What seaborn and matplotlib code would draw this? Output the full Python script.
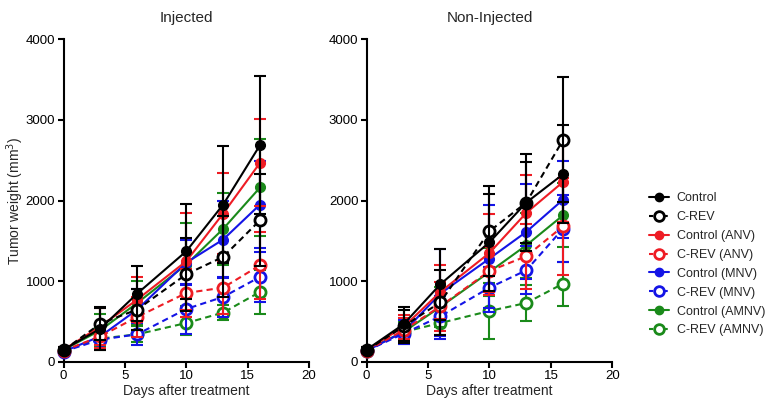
import numpy as np
import pandas as pd
import matplotlib
matplotlib.use("Agg")
import matplotlib.pyplot as plt
import seaborn as sns
from matplotlib.lines import Line2D

days = [0, 3, 6, 10, 13, 16]
groups = ["Control", "C-REV", "Control (ANV)", "C-REV (ANV)",
          "Control (MNV)", "C-REV (MNV)", "Control (AMNV)", "C-REV (AMNV)"]
panels = ["Injected", "Non-Injected"]

# Injected means / SD
inj_ctrl = [153, 413, 847, 1372, 1950, 2686]
inj_crev = [145, 475, 650, 1087, 1302, 1756]
inj_ctrl_anv = [150, 442, 773, 1248, 1839, 2467]
inj_crev_anv = [140, 318, 558, 855, 921, 1198]
inj_ctrl_mnv = [130, 318, 649, 1231, 1517, 1950]
inj_crev_mnv = [130, 277, 343, 657, 806, 1054]
inj_ctrl_amnv = [150, 393, 731, 1207, 1649, 2161]
inj_crev_amnv = [140, 289, 343, 483, 612, 868]

inj_ctrl_err = [30, 260, 343, 590, 720, 855]
inj_crev_err = [30, 200, 250, 450, 500, 570]
inj_ctrl_anv_err = [30, 230, 280, 600, 500, 537]
inj_crev_anv_err = [25, 150, 250, 300, 330, 414]
inj_ctrl_mnv_err = [25, 150, 250, 280, 480, 540]
inj_crev_mnv_err = [20, 100, 136, 314, 250, 310]
inj_ctrl_amnv_err = [25, 200, 270, 516, 450, 600]
inj_crev_amnv_err = [20, 136, 100, 150, 95, 277]

# Non-injected means / SD
ni_ctrl = [153, 467, 963, 1483, 1975, 2326]
ni_crev = [145, 440, 740, 1620, 1975, 2752]
ni_ctrl_anv = [150, 434, 868, 1351, 1847, 2231]
ni_crev_anv = [140, 393, 690, 1128, 1310, 1682]
ni_ctrl_mnv = [140, 372, 847, 1281, 1612, 2012]
ni_crev_mnv = [140, 351, 566, 921, 1136, 1653]
ni_ctrl_amnv = [150, 372, 682, 1116, 1446, 1818]
ni_crev_amnv = [140, 372, 483, 632, 731, 971]

ni_ctrl_err = [30, 210, 440, 600, 600, 610]
ni_crev_err = [30, 200, 400, 560, 500, 775]
ni_ctrl_anv_err = [30, 150, 330, 480, 470, 500]
ni_crev_anv_err = [25, 150, 300, 300, 400, 600]
ni_ctrl_mnv_err = [25, 150, 558, 660, 590, 480]
ni_crev_mnv_err = [20, 120, 250, 250, 300, 420]
ni_ctrl_amnv_err = [25, 150, 250, 300, 400, 400]
ni_crev_amnv_err = [20, 120, 150, 343, 223, 273]

data = {
    "Injected": [(inj_ctrl, inj_ctrl_err), (inj_crev, inj_crev_err),
                 (inj_ctrl_anv, inj_ctrl_anv_err), (inj_crev_anv, inj_crev_anv_err),
                 (inj_ctrl_mnv, inj_ctrl_mnv_err), (inj_crev_mnv, inj_crev_mnv_err),
                 (inj_ctrl_amnv, inj_ctrl_amnv_err), (inj_crev_amnv, inj_crev_amnv_err)],
    "Non-Injected": [(ni_ctrl, ni_ctrl_err), (ni_crev, ni_crev_err),
                     (ni_ctrl_anv, ni_ctrl_anv_err), (ni_crev_anv, ni_crev_anv_err),
                     (ni_ctrl_mnv, ni_ctrl_mnv_err), (ni_crev_mnv, ni_crev_mnv_err),
                     (ni_ctrl_amnv, ni_ctrl_amnv_err), (ni_crev_amnv, ni_crev_amnv_err)],
}

colors = ["#000000", "#000000", "#ee1c24", "#ee1c24",
          "#1414e6", "#1414e6", "#1a8a1a", "#1a8a1a"]

sns.set_theme(style="ticks")
plt.rcParams["font.family"] = ["Liberation Sans", "DejaVu Sans"]

fig = plt.figure(figsize=(7.7, 4.0), dpi=100)
ax_pos = [(0.0825, 0.095, 0.319, 0.8075), (0.4762, 0.095, 0.319, 0.8075)]

handles = []
for pi, (panel, pos) in enumerate(zip(panels, ax_pos)):
    ax = fig.add_axes(pos)
    series = data[panel]
    for gi in reversed(range(len(groups))):
        vals, err = series[gi]
        c = colors[gi]
        is_ctrl = gi % 2 == 0
        z = 10 + (len(groups) - gi)
        df = pd.DataFrame({"day": days, "val": vals})
        ax.errorbar(days, vals, yerr=err, fmt="none", ecolor=c, elinewidth=1.5,
                    capsize=4, capthick=1.5, zorder=z - 0.5)
        sns.lineplot(data=df, x="day", y="val", ax=ax, color=c,
                     linestyle="-" if is_ctrl else (0, (3, 2)),
                     linewidth=1.5, marker="o",
                     markersize=7 if is_ctrl else 8,
                     markerfacecolor=c if is_ctrl else "white",
                     markeredgecolor=c, markeredgewidth=1.0 if is_ctrl else 2.0,
                     zorder=z, legend=False)
    ax.set_xlim(0, 20)
    ax.set_ylim(0, 4000)
    ax.set_xticks([0, 5, 10, 15, 20])
    ax.set_yticks([0, 1000, 2000, 3000, 4000])
    ax.set_title(panel, fontsize=11, pad=12)
    ax.set_xlabel("Days after treatment", fontsize=10, labelpad=1)
    if pi == 0:
        ax.set_ylabel("Tumor weight (mm$^3$)", fontsize=10, labelpad=0)
    else:
        ax.set_ylabel("")
    for s in ["top", "right"]:
        ax.spines[s].set_visible(False)
    for s in ["left", "bottom"]:
        ax.spines[s].set_color("black")
        ax.spines[s].set_linewidth(1.5)
    ax.tick_params(axis="both", colors="black", labelsize=9.5, width=1.5,
                   length=4, direction="out", pad=2)
    for ln in ax.get_lines():
        ln.set_clip_on(False)

for gi, g in enumerate(groups):
    c = colors[gi]
    is_ctrl = gi % 2 == 0
    handles.append(Line2D([0], [0], color=c, linestyle="-" if is_ctrl else (0, (2, 1.5)),
                          linewidth=1.5, marker="o",
                          markersize=6 if is_ctrl else 7,
                          markerfacecolor=c if is_ctrl else "white",
                          markeredgecolor=c, markeredgewidth=1.0 if is_ctrl else 2.0,
                          label=g))

fig.legend(handles=handles, loc="upper left", bbox_to_anchor=(0.835, 0.535),
           frameon=False, fontsize=9, handlelength=1.6, handletextpad=0.6,
           labelspacing=0.55, borderpad=0)

fig.savefig("out.png", dpi=100)
